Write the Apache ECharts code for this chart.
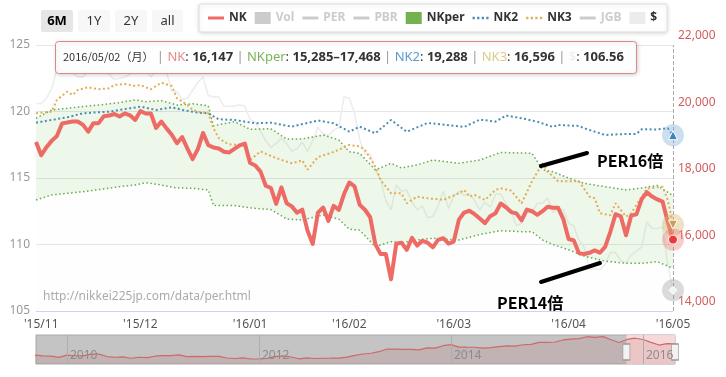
<!DOCTYPE html>
<html>
<head>
<meta charset="utf-8">
<title>日経平均 PER</title>
<script src="https://cdn.jsdelivr.net/npm/echarts@6/dist/echarts.min.js"></script>
<style>
html, body { margin: 0; padding: 0; background: #fff; }
#chart { width: 726px; height: 377px; }
</style>
</head>
<body>
<div id="chart"></div>
<script>
// trading days shown in the 6M window
const dates = [
  '2015/10/30',
  '2015/11/02','2015/11/04','2015/11/05','2015/11/06','2015/11/09','2015/11/10','2015/11/11','2015/11/12','2015/11/13','2015/11/16',
  '2015/11/17','2015/11/18','2015/11/19','2015/11/20','2015/11/24','2015/11/25','2015/11/26','2015/11/27','2015/11/30',
  '2015/12/01','2015/12/02','2015/12/03','2015/12/04','2015/12/07','2015/12/08','2015/12/09','2015/12/10','2015/12/11','2015/12/14',
  '2015/12/15','2015/12/16','2015/12/17','2015/12/18','2015/12/21','2015/12/22','2015/12/24','2015/12/25','2015/12/28','2015/12/29','2015/12/30',
  '2016/01/04','2016/01/05','2016/01/06','2016/01/07','2016/01/08','2016/01/12','2016/01/13','2016/01/14','2016/01/15','2016/01/18',
  '2016/01/19','2016/01/20','2016/01/21','2016/01/22','2016/01/25','2016/01/26','2016/01/27','2016/01/28','2016/01/29',
  '2016/02/01','2016/02/02','2016/02/03','2016/02/04','2016/02/05','2016/02/08','2016/02/09','2016/02/10','2016/02/12','2016/02/15',
  '2016/02/16','2016/02/17','2016/02/18','2016/02/19','2016/02/22','2016/02/23','2016/02/24','2016/02/25','2016/02/26','2016/02/29',
  '2016/03/01','2016/03/02','2016/03/03','2016/03/04','2016/03/07','2016/03/08','2016/03/09','2016/03/10','2016/03/11','2016/03/14',
  '2016/03/15','2016/03/16','2016/03/17','2016/03/18','2016/03/22','2016/03/23','2016/03/24','2016/03/25','2016/03/28','2016/03/29','2016/03/30','2016/03/31',
  '2016/04/01','2016/04/04','2016/04/05','2016/04/06','2016/04/07','2016/04/08','2016/04/11','2016/04/12','2016/04/13','2016/04/14',
  '2016/04/15','2016/04/18','2016/04/19','2016/04/20','2016/04/21','2016/04/22','2016/04/25','2016/04/26','2016/04/27','2016/04/28',
  '2016/05/02'
];

// 日経平均 (right axis)
const nkClose = [
  19083,
  18683, 18927, 19117, 19265, 19642, 19671, 19697, 19698, 19597, 19394, 19650, 19650, 19860, 19880, 19925, 19848, 19944, 19884, 19747,
  20012, 19939, 19940, 19504, 19698, 19493, 19302, 19047, 19231, 18884, 18566, 18871, 19354, 18987, 18916, 18887, 18790, 18770, 18874, 18982, 19034,
  18451, 18375, 18192, 17768, 17698, 17219, 17716, 17241, 17147, 16956, 17049, 16417, 16018, 16959, 17111, 16709, 17164, 17041, 17518,
  17866, 17751, 17192, 17045, 16820, 16005, 15713, 15714, 14953, 16023, 16055, 15837, 16197, 15968, 16112, 16053, 15916, 16141, 16189, 16027,
  16086, 16747, 16961, 17015, 16912, 16784, 16642, 16852, 16939, 17234, 17118, 16975, 16937, 16725, 17049, 17001, 16893, 17002, 17135, 17104, 17103, 16759,
  16164, 16123, 15733, 15715, 15750, 15822, 15751, 15929, 16382, 16912, 16849, 16276, 16874, 16907, 17364, 17573, 17440, 17354, 17291, 16666,
  16147
];

// ドル円 (left axis)
const usdJpy = [
  120.6,
  120.6, 121.0, 121.7, 123.2, 123.2, 123.2, 122.9, 122.6, 122.6, 123.0, 123.3, 123.4, 122.9, 122.8, 122.4, 122.5, 122.6, 122.8, 123.2,
  122.9, 123.2, 122.6, 123.1, 123.3, 123.0, 121.5, 121.5, 120.9, 121.0, 121.6, 122.2, 122.6, 121.2, 121.1, 121.1, 120.4, 120.4, 120.4, 120.5, 120.4,
  119.4, 119.2, 118.5, 117.8, 117.3, 117.6, 118.0, 117.6, 117.0, 117.2, 117.7, 117.0, 117.8, 118.8, 118.3, 118.2, 118.6, 118.8, 121.1,
  121.0, 119.9, 117.9, 116.8, 116.8, 115.6, 114.9, 113.3, 112.6, 114.5, 114.0, 114.1, 113.2, 112.6, 112.9, 112.0, 112.1, 112.9, 114.0, 112.7,
  113.6, 114.0, 113.7, 113.8, 113.3, 112.6, 113.2, 112.8, 113.8, 113.8, 113.1, 112.5, 111.4, 111.6, 112.4, 112.4, 113.1, 113.1, 113.5, 112.4, 112.7, 112.6,
  111.6, 111.4, 110.3, 109.8, 108.1, 108.2, 108.1, 108.5, 109.4, 109.4, 108.8, 108.6, 109.2, 109.5, 109.8, 111.7, 111.2, 111.2, 111.3, 108.5,
  106.56
];

// NK2 / NK3, read at these trading-day positions
const nk2Idx = [0, 6, 9, 14, 18, 20, 23, 26, 28, 31, 33, 35, 38, 42, 45, 49, 54, 57, 60, 62, 65, 68, 71, 75, 82, 85, 88, 90, 93, 96, 99, 100, 104, 105, 109, 113, 115, 116, 119, 121, 122];
const nk2Val = [19664, 19826, 19947, 19995, 20097, 20146, 20046, 20127, 20046, 19965, 19947, 19766, 19745, 19646, 19664, 19544, 19730, 19646, 19393, 19544, 19345, 19745, 19393, 19655, 19535, 19757, 19695, 19880, 19797, 19695, 19535, 19595, 19565, 19496, 19294, 19325, 19325, 19466, 19460, 19496, 19288];

const nk3Idx = [0, 3, 4, 6, 7, 8, 10, 12, 14, 15, 17, 19, 20, 22, 24, 26, 27, 29, 30, 31, 33, 34, 35, 36, 37, 40, 41, 43, 45, 47, 49, 51, 52, 54, 57, 60, 62, 63, 65, 66, 68, 70, 71, 73, 75, 78, 81, 82, 83, 84, 86, 88, 89, 91, 93, 95, 97, 98, 100, 104, 106, 107, 108, 110, 111, 113, 114, 116, 117, 118, 120, 121, 122];
const nk3Val = [19947, 19995, 20347, 20597, 20497, 20648, 20729, 20669, 20699, 20798, 20828, 20768, 20798, 20669, 20867, 20768, 20398, 20196, 20046, 19995, 19947, 19496, 19200, 19093, 19014, 18990, 18542, 18800, 18660, 18542, 18446, 18530, 18250, 18630, 18780, 18993, 18950, 18843, 18341, 17940, 17540, 17540, 17240, 17440, 17390, 17340, 17540, 17640, 17440, 17490, 17340, 17640, 17690, 17620, 17240, 17900, 18443, 18190, 17900, 17900, 17440, 17390, 16940, 16880, 17240, 16840, 16940, 17440, 17680, 17700, 17740, 17340, 16596];

// NKper band (PER14倍 - PER16倍)
const perIdx = [0, 3, 6, 9, 12, 16, 19, 21, 24, 27, 30, 33, 34, 38, 41, 45, 48, 51, 55, 58, 60, 62, 65, 68, 70, 73, 76, 81, 85, 89, 93, 95, 97, 99, 102, 105, 109, 113, 116, 119, 122];
const perHigh = [19797, 20046, 20097, 20150, 20196, 20266, 20350, 20296, 20326, 20196, 20230, 20170, 19570, 19694, 19466, 19481, 19170, 19175, 19294, 19144, 18792, 18743, 18243, 18443, 18300, 18392, 18542, 18443, 18542, 18768, 18753, 18743, 18250, 18190, 18000, 17840, 17740, 17640, 17700, 17775, 17468];
const perLow = [17339, 17489, 17540, 17589, 17650, 17739, 17790, 17859, 17790, 17700, 17690, 17640, 17170, 17173, 17100, 17050, 16767, 16737, 16890, 16760, 16460, 16430, 15934, 16085, 16050, 16136, 16187, 16136, 16300, 16415, 16385, 16385, 16136, 16000, 15840, 15650, 15500, 15435, 15435, 15483, 15285];

// navigator: monthly closes from 2009/08
const navStart = [2009, 8];
const navClose = [
  10493, 10133, 10034, 9345, 10546,
  10198, 10126, 11089, 11057, 9768, 9382, 9537, 8824, 9369, 9202, 9937, 10228,
  10237, 10624, 9755, 9849, 9693, 9816, 9833, 8955, 8700, 8988, 8434, 8455,
  8802, 9723, 10083, 9520, 8542, 9006, 8695, 8840, 8870, 8928, 9446, 10395,
  11138, 11559, 12397, 13861, 13775, 13677, 13668, 13389, 14456, 14327, 15662, 16291,
  14915, 14841, 14828, 14304, 14632, 15162, 15621, 15425, 16174, 16414, 17460, 17451,
  17674, 18798, 19207, 19520, 20563, 20236, 20585, 18890, 17388, 19083, 19747, 19034,
  17518, 16027, 16759, 16666
];
const navYearLabels = [2010, 2012, 2014, 2016];
const rangeButtons = ['6M', '1Y', '2Y', 'all'];

const FONT = '"Noto Sans", "Noto Sans CJK JP", sans-serif';
const LAST = dates.length - 1;
const fmt = v => v.toLocaleString('en-US');
const pairs = (idx, vals) => idx.map((i, k) => [dates[i], vals[k]]);
const perBand = perHigh.map((v, k) => v - perLow[k]);

function decYear(s) {
  const [y, m, d] = s.split('/').map(Number);
  const t0 = Date.UTC(y, 0, 1), t1 = Date.UTC(y + 1, 0, 1);
  return y + (Date.UTC(y, m - 1, d) - t0) / (t1 - t0);
}
const navData = navClose.map((v, k) => {
  const mm = navStart[1] - 1 + k;
  const y = navStart[0] + Math.floor(mm / 12);
  return [y + ((mm % 12) + 1) / 12, v];
});
navData.push([decYear(dates[LAST]), nkClose[LAST]]);
const selStart = decYear(dates[0]);
const selEnd = decYear(dates[LAST]);

const C = {
  nk: '#ee6a65', nk2: '#4d8db3', nk3: '#e2ad55', per: '#69a84c',
  perFill: 'rgba(125,200,105,0.2)', usd: '#ededed', right: '#d35d5d'
};

const lineIcon = 'path://M0,0H16V3H0Z';
const dotIcon = 'path://M0,0h2v2h-2z M4,0h2v2h-2z M8,0h2v2h-2z M12,0h2v2h-2z';

function endMarker(x, v, sym, size, color, halo, rotate) {
  return {
    silent: true,
    animation: false,
    label: { show: false },
    data: [
      { coord: [x, v], symbol: 'circle', symbolSize: 22, itemStyle: { color: halo } },
      { coord: [x, v], symbol: sym, symbolSize: size, symbolRotate: rotate || 0,
        itemStyle: { color: color, borderColor: '#fff', borderWidth: 1 } }
    ]
  };
}

const weekday = ['日', '月', '火', '水', '木', '金', '土'][new Date(dates[LAST].replace(/\//g, '-')).getDay()];
const tipText =
  '{d|' + dates[LAST] + '（' + weekday + '）}{s| | }' +
  '{nk|NK}{c|: }{b|' + fmt(nkClose[LAST]) + '}{s| | }' +
  '{per|NKper}{c|: }{b|' + fmt(perLow[perLow.length - 1]) + '–' + fmt(perHigh[perHigh.length - 1]) + '}{s| | }' +
  '{nk2|NK2}{c|: }{b|' + fmt(nk2Val[nk2Val.length - 1]) + '}{s| | }' +
  '{nk3|NK3}{c|: }{b|' + fmt(nk3Val[nk3Val.length - 1]) + '}{s| | }' +
  '{usd|$}{c|: }{b|' + usdJpy[LAST].toFixed(2) + '}';

const buttons = [];
rangeButtons.forEach((t, k) => {
  const x = [41, 78, 115, 152][k];
  buttons.push({
    type: 'rect', left: x, top: 10, z: 50,
    shape: { width: k === 3 ? 31 : 32, height: 22, r: 2 },
    style: { fill: k === 0 ? '#e6e6e6' : '#f7f7f7' }
  });
  buttons.push({
    type: 'text', x: x + (k === 3 ? 15.5 : 16), y: 21, z: 51,
    style: { text: t, fill: k === 0 ? '#000' : '#333', font: (k === 0 ? 'bold ' : '') + '13px ' + FONT,
      align: 'center', verticalAlign: 'middle' }
  });
});

const chart = echarts.init(document.getElementById('chart'), null, { renderer: 'canvas' });

chart.setOption({
  animation: false,
  textStyle: { fontFamily: FONT },
  legend: {
    left: 199, top: 4,
    padding: [8, 10, 8, 9],
    itemGap: 8, itemWidth: 16, itemHeight: 12,
    backgroundColor: '#fff', borderColor: '#dedede', borderWidth: 1, borderRadius: 2,
    shadowBlur: 4, shadowColor: 'rgba(0,0,0,0.15)', shadowOffsetY: 1,
    textStyle: { fontWeight: 'bold', fontSize: 12, color: '#333', fontFamily: FONT },
    inactiveColor: '#cccccc',
    selected: { Vol: false, PER: false, PBR: false, JGB: false },
    data: [
      { name: 'NK', icon: lineIcon, itemStyle: { color: C.nk, borderWidth: 0 } },
      { name: 'Vol', icon: 'rect', itemStyle: { color: '#ccc', borderWidth: 0 } },
      { name: 'PER', icon: lineIcon, itemStyle: { color: '#ccc', borderWidth: 0 } },
      { name: 'PBR', icon: lineIcon, itemStyle: { color: '#ccc', borderWidth: 0 } },
      { name: 'NKper', icon: 'rect', itemStyle: { color: '#72b34f', borderWidth: 0 } },
      { name: 'NK2', icon: dotIcon, itemStyle: { color: C.nk2, borderWidth: 0 } },
      { name: 'NK3', icon: dotIcon, itemStyle: { color: '#d9b35f', borderWidth: 0 } },
      { name: 'JGB', icon: lineIcon, itemStyle: { color: '#ccc', borderWidth: 0 } },
      { name: '$', icon: 'rect', itemStyle: { color: '#ececec', borderWidth: 0 } }
    ]
  },
  grid: [
    { left: 36, right: 53, top: 45, bottom: 66 },
    { left: 36, right: 51, top: 335, height: 29, show: true,
      backgroundColor: '#c4c4c4', borderColor: '#a8a8a8', borderWidth: 1 }
  ],
  xAxis: [
    {
      type: 'category', gridIndex: 0, data: dates, boundaryGap: false,
      axisLine: { lineStyle: { color: '#ccd6eb' } },
      axisTick: { show: false },
      axisLabel: {
        color: '#555', fontSize: 12, margin: 8,
        interval: (i) => i > 0 && dates[i].slice(5, 7) !== dates[i - 1].slice(5, 7),
        formatter: (v) => "'" + v.slice(2, 4) + '/' + v.slice(5, 7)
      },
      splitLine: { show: false }
    },
    {
      type: 'value', gridIndex: 1, min: selStart - 6.15, max: selEnd, z: 10,
      axisLine: { show: false },
      axisTick: { show: true, inside: true, length: 29, customValues: navYearLabels,
        lineStyle: { color: '#adadad' } },
      axisLabel: { inside: true, customValues: navYearLabels, color: '#8c8c8c', fontSize: 12,
        align: 'left', margin: 2, padding: [0, 0, 0, 3], formatter: (v) => String(v) },
      splitLine: { show: false }
    }
  ],
  yAxis: [
    {
      type: 'value', gridIndex: 0, position: 'left', min: 105, max: 125, interval: 5,
      axisLine: { show: false }, axisTick: { show: false },
      axisLabel: { color: '#999', fontSize: 12, margin: 6 },
      splitLine: { lineStyle: { color: '#e6e6e6' } }
    },
    {
      type: 'value', gridIndex: 0, position: 'right', min: 14000, max: 22000, interval: 2000,
      axisLine: { show: false }, axisTick: { show: false },
      axisLabel: { color: C.right, fontSize: 12, margin: 5, verticalAlign: 'bottom',
        padding: [0, 0, 3, 0], formatter: fmt },
      splitLine: { show: false }
    },
    { type: 'value', gridIndex: 1, min: 5700, max: 21500, show: false }
  ],
  series: [
    {
      name: '$', type: 'line', xAxisIndex: 0, yAxisIndex: 0, data: usdJpy, symbol: 'none',
      lineStyle: { color: C.usd, width: 1.6 }, areaStyle: { color: 'rgba(0,0,0,0.008)' }, z: 1,
      markPoint: endMarker(dates[LAST], usdJpy[LAST], 'diamond', 8, '#f4f4f4', 'rgba(150,150,150,0.35)')
    },
    {
      name: 'NKper', type: 'line', yAxisIndex: 1, stack: 'per', data: pairs(perIdx, perLow), symbol: 'none',
      lineStyle: { color: C.per, width: 1.5, type: [1.5, 2.5] }, z: 2
    },
    {
      name: 'NKper', type: 'line', yAxisIndex: 1, stack: 'per', data: pairs(perIdx, perBand), symbol: 'none',
      lineStyle: { color: C.per, width: 1.5, type: [1.5, 2.5] }, areaStyle: { color: C.perFill }, z: 2
    },
    {
      name: 'NK2', type: 'line', yAxisIndex: 1, data: pairs(nk2Idx, nk2Val), symbol: 'none',
      lineStyle: { color: C.nk2, width: 2, type: [2, 2.5] }, z: 3,
      markPoint: endMarker(dates[LAST], nk2Val[nk2Val.length - 1], 'triangle', 9, '#3d83b8', 'rgba(110,160,210,0.35)')
    },
    {
      name: 'NK3', type: 'line', yAxisIndex: 1, data: pairs(nk3Idx, nk3Val), symbol: 'none',
      lineStyle: { color: C.nk3, width: 2, type: [2, 2.5] }, z: 3,
      markPoint: endMarker(dates[LAST], nk3Val[nk3Val.length - 1], 'triangle', 9, '#c9a050', 'rgba(215,180,110,0.4)', 180)
    },
    {
      name: 'NK', type: 'line', yAxisIndex: 1, data: nkClose, symbol: 'none',
      lineStyle: { color: C.nk, width: 4, join: 'round' }, z: 4,
      markLine: {
        silent: true, animation: false, symbol: ['none', 'none'], label: { show: false },
        lineStyle: { type: 'dashed', color: '#aaa', width: 1 },
        data: [{ xAxis: dates[LAST] }]
      },
      markPoint: endMarker(dates[LAST], nkClose[LAST], 'circle', 9, '#e83c3c', 'rgba(240,110,110,0.35)')
    },
    { name: 'Vol', type: 'bar', yAxisIndex: 1, data: [] },
    { name: 'PER', type: 'line', yAxisIndex: 1, data: [] },
    { name: 'PBR', type: 'line', yAxisIndex: 1, data: [] },
    { name: 'JGB', type: 'line', yAxisIndex: 1, data: [] },
    {
      name: 'navigator', type: 'line', xAxisIndex: 1, yAxisIndex: 2, data: navData, symbol: 'none',
      lineStyle: { color: '#d06868', width: 1.2 }, areaStyle: { color: 'rgba(180,80,80,0.2)' },
      markArea: {
        silent: true, itemStyle: { color: 'rgba(255,222,222,0.85)' },
        data: [[{ xAxis: selStart }, { xAxis: selEnd }]]
      },
      markPoint: {
        silent: true, label: { show: false },
        symbol: 'rect', symbolSize: [7, 16],
        itemStyle: { color: '#f2f2f2', borderColor: '#999', borderWidth: 1 },
        data: [{ coord: [selStart, 12300] }, { coord: [selEnd, 12300] }]
      }
    }
  ],
  graphic: buttons.concat([
    {
      type: 'text', left: 43, top: 291, z: 5,
      style: { text: 'http://nikkei225jp.com/data/per.html', fill: '#ababab', font: '12px ' + FONT }
    },
    {
      type: 'line', z: 60,
      shape: { x1: 541, y1: 166, x2: 587, y2: 153 },
      style: { stroke: '#000', lineWidth: 4, lineCap: 'round' }
    },
    {
      type: 'line', z: 60,
      shape: { x1: 541, y1: 282, x2: 600, y2: 263 },
      style: { stroke: '#000', lineWidth: 4, lineCap: 'round' }
    },
    {
      type: 'text', x: 597, y: 161, z: 60,
      style: { text: 'PER16倍', fill: '#000', font: 'bold 16px "Noto Sans CJK JP"', verticalAlign: 'middle' }
    },
    {
      type: 'text', x: 497, y: 303, z: 60,
      style: { text: 'PER14倍', fill: '#000', font: 'bold 16px "Noto Sans CJK JP"', verticalAlign: 'middle' }
    },
    {
      type: 'rect', left: 55, top: 41, z: 90,
      shape: { width: 581, height: 32, r: 3 },
      style: { fill: 'rgba(255,255,255,0.96)', stroke: '#d9898a', lineWidth: 1,
        shadowBlur: 4, shadowColor: 'rgba(0,0,0,0.18)', shadowOffsetX: 1, shadowOffsetY: 1 }
    },
    {
      type: 'text', x: 63, y: 57, z: 91,
      style: {
        text: tipText, verticalAlign: 'middle',
        rich: {
          d: { fontSize: 11, fill: '#333', fontFamily: '"Noto Sans CJK JP", "Noto Sans", sans-serif' },
          s: { fontSize: 13, fill: '#999', fontFamily: FONT },
          c: { fontSize: 13, fill: '#333', fontFamily: FONT },
          b: { fontSize: 13, fontWeight: 'bold', fill: '#333', fontFamily: FONT },
          nk: { fontSize: 13, fill: '#e98a8a', fontFamily: FONT },
          per: { fontSize: 13, fill: '#7ab45a', fontFamily: FONT },
          nk2: { fontSize: 13, fill: '#5b9dc9', fontFamily: FONT },
          nk3: { fontSize: 13, fill: '#dccb8c', fontFamily: FONT },
          usd: { fontSize: 13, fill: '#eeeeee', fontFamily: FONT }
        }
      }
    }
  ])
});
</script>
</body>
</html>
